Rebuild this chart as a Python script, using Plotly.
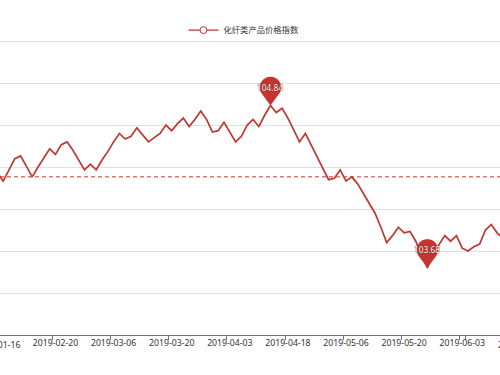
import numpy as np
import plotly.graph_objects as go

SERIES_NAME = "化纤类产品价格指数"

DATES = [
    "2019-01-16", "2019-01-18", "2019-01-22", "2019-01-24", "2019-01-28",
    "2019-01-30", "2019-02-01", "2019-02-12", "2019-02-14", "2019-02-18",
    "2019-02-20", "2019-02-21", "2019-02-22", "2019-02-25", "2019-02-26",
    "2019-02-27", "2019-02-28", "2019-03-01", "2019-03-04", "2019-03-05",
    "2019-03-06", "2019-03-07", "2019-03-08", "2019-03-11", "2019-03-12",
    "2019-03-13", "2019-03-14", "2019-03-15", "2019-03-18", "2019-03-19",
    "2019-03-20", "2019-03-21", "2019-03-22", "2019-03-25", "2019-03-26",
    "2019-03-27", "2019-03-28", "2019-03-29", "2019-04-01", "2019-04-02",
    "2019-04-03", "2019-04-04", "2019-04-08", "2019-04-09", "2019-04-10",
    "2019-04-11", "2019-04-12", "2019-04-15", "2019-04-16", "2019-04-17",
    "2019-04-18", "2019-04-19", "2019-04-22", "2019-04-23", "2019-04-24",
    "2019-04-25", "2019-04-26", "2019-04-28", "2019-04-29", "2019-04-30",
    "2019-05-06", "2019-05-07", "2019-05-08", "2019-05-09", "2019-05-10",
    "2019-05-13", "2019-05-14", "2019-05-15", "2019-05-16", "2019-05-17",
    "2019-05-20", "2019-05-21", "2019-05-22", "2019-05-23", "2019-05-24",
    "2019-05-27", "2019-05-28", "2019-05-29", "2019-05-30", "2019-05-31",
    "2019-06-03", "2019-06-04", "2019-06-05", "2019-06-06", "2019-06-10",
    "2019-06-11", "2019-06-12", "2019-06-13", "2019-06-14", "2019-06-17",
    "2019-06-18",
]

VALUES = [
    104.36, 104.30, 104.38, 104.46, 104.48, 104.41, 104.33, 104.40, 104.47, 104.53,
    104.49, 104.56, 104.58, 104.52, 104.45, 104.38, 104.42, 104.38, 104.45, 104.51,
    104.58, 104.64, 104.60, 104.62, 104.68, 104.63, 104.58, 104.61, 104.64, 104.70,
    104.66, 104.71, 104.75, 104.69, 104.74, 104.80, 104.74, 104.65, 104.66, 104.72,
    104.65, 104.58, 104.62, 104.70, 104.74, 104.69, 104.77, 104.84, 104.79, 104.82,
    104.75, 104.67, 104.58, 104.64, 104.56, 104.47, 104.39, 104.31, 104.32, 104.38,
    104.30, 104.33, 104.28, 104.21, 104.14, 104.07, 103.97, 103.86, 103.91, 103.97,
    103.93, 103.94, 103.87, 103.78, 103.68, 103.78, 103.85, 103.91, 103.87, 103.91,
    103.82, 103.80, 103.83, 103.85, 103.95, 103.99, 103.93, 103.89, 103.90, 103.92,
    103.95,
]

AVG_VALUE = 104.33          # average mark line
Y_TICKS = [103.5, 103.8, 104.1, 104.4, 104.7, 105.0, 105.3]
Y_RANGE = [103.2, 105.315]  # a hair above the top grid line so it is drawn
LABEL_EVERY = 10
X_VIEW = [0.45, 86.5]       # visible window, in category positions

RED = "#c23531"
AXIS = "#6e7079"
TEXT = "#333333"
TICK_FONT = dict(family="Noto Sans, Open Sans, sans-serif", size=8.7, color=TEXT)

fig = go.Figure()
fig.add_trace(go.Scatter(
    x=DATES, y=VALUES, mode="lines",
    line=dict(color=RED, width=1.7),
    showlegend=False, hoverinfo="skip",
))
fig.add_trace(go.Scatter(
    x=[None], y=[None], mode="lines+markers", name=SERIES_NAME,
    line=dict(color=RED, width=1.2),
    marker=dict(symbol="circle", size=7, color="white", line=dict(color=RED, width=1)),
))

# average mark line
fig.add_shape(type="line", xref="paper", x0=0, x1=1, yref="y",
              y0=AVG_VALUE, y1=AVG_VALUE,
              line=dict(color=RED, width=1, dash="4px,3px"))


def pin_path(r=10.7, d=18.0, n=48):
    th = np.arcsin(r / d)
    ang = np.linspace(-th, np.pi + th, n)
    xs = r * np.cos(ang)
    ys = d + r * np.sin(ang)
    pts = " L".join(f"{x:.2f},{y:.2f}" for x, y in zip(xs, ys))
    return "M0,0 L" + pts + " Z"


PIN = pin_path()
for idx in (int(np.argmax(VALUES)), int(np.argmin(VALUES))):
    fig.add_shape(type="path", xref="x", yref="y",
                  xsizemode="pixel", ysizemode="pixel",
                  xanchor=DATES[idx], yanchor=VALUES[idx],
                  path=PIN, fillcolor=RED, line=dict(width=0), layer="above")
    fig.add_annotation(x=DATES[idx], y=VALUES[idx], yshift=18,
                       text=f"{VALUES[idx]:.2f}", showarrow=False,
                       font=dict(family="Noto Sans, sans-serif", size=8.3, color="white",
                                 shadow="0 0 1px #7a1a17, 0 0 1px #7a1a17"))

tick_idx = list(range(0, len(DATES), LABEL_EVERY))
in_view = [i for i in tick_idx if X_VIEW[0] <= i <= X_VIEW[1]]
out_view = [i for i in tick_idx if not (X_VIEW[0] <= i <= X_VIEW[1])]

# labels of ticks that sit just outside the visible window (partly visible)
span = X_VIEW[1] - X_VIEW[0]
for i in out_view:
    fig.add_annotation(xref="paper", yref="paper",
                       x=(i - X_VIEW[0]) / span, y=0, yshift=-10,
                       xanchor="center", yanchor="middle",
                       text=DATES[i], showarrow=False, font=TICK_FONT)

fig.update_xaxes(
    type="category", range=X_VIEW,
    tickmode="array", tickvals=[DATES[i] for i in in_view],
    ticktext=[DATES[i] for i in in_view],
    tickson="boundaries", tickangle=0,
    ticks="outside", ticklen=3.5, tickcolor=AXIS, tickwidth=1,
    showline=True, linecolor=AXIS, linewidth=1,
    showgrid=False, zeroline=False, tickfont=TICK_FONT,
)
fig.update_yaxes(
    range=Y_RANGE, tickmode="array", tickvals=Y_TICKS,
    showticklabels=False, ticks="", showgrid=True,
    gridcolor="#e0e0e0", gridwidth=1, zeroline=False, showline=False,
)

fig.update_layout(
    width=500, height=375,
    margin=dict(l=0, r=0, t=39, b=40, autoexpand=False),
    paper_bgcolor="white", plot_bgcolor="white",
    legend=dict(orientation="h", x=0.488, xanchor="center", y=1.030, yanchor="middle",
                font=dict(family="Noto Sans CJK SC, sans-serif", size=8.3, color=TEXT),
                itemwidth=30, bgcolor="rgba(0,0,0,0)"),
    hovermode=False,
)

fig.write_html("out.html", config={"displayModeBar": False},
               post_script="document.body.style.margin='0';document.body.style.overflow='hidden';")
